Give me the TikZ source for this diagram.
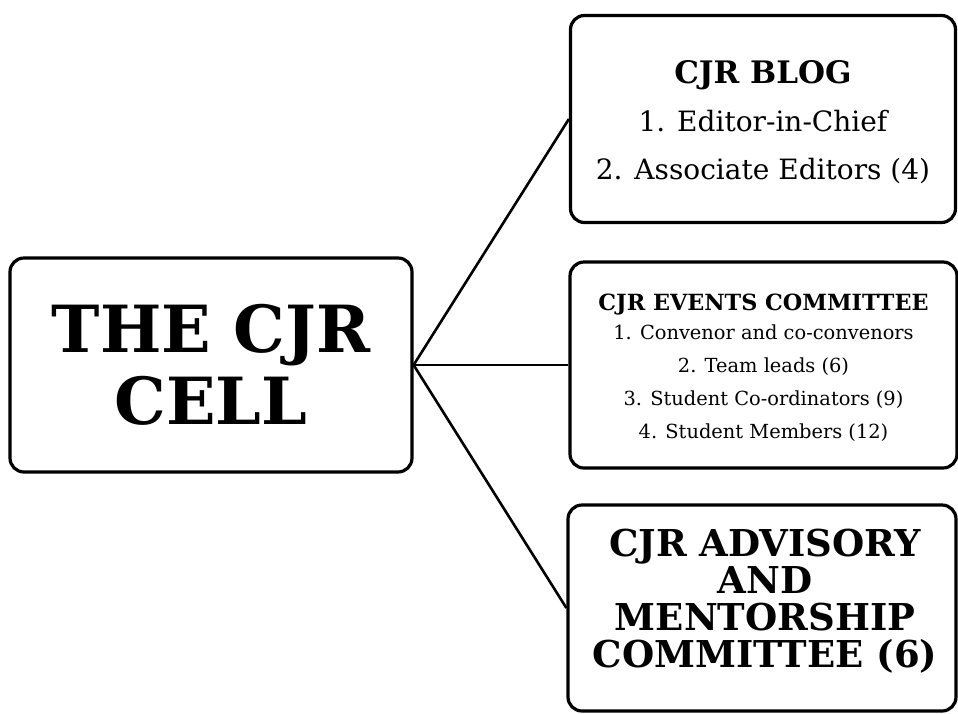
\documentclass[tikz,border=0pt]{standalone}
\usepackage{fontspec}
\setmainfont{DejaVu Serif}[BoldFont={DejaVu Serif Bold}]
\tikzset{
  box/.style={draw=black, line width=3.2pt, rounded corners=14pt, align=center, inner sep=0pt},
  boxtext/.style={align=center, inner sep=0pt},
  link/.style={draw=black, line width=2.6pt},
}
\begin{document}
\begin{tikzpicture}[x=1pt,y=-1pt]
\useasboundingbox (0,0) rectangle (958,713);
\node[box, minimum width=402pt, minimum height=214pt,
      font=\bfseries\fontsize{65}{72}\selectfont] (cell) at (211,365)
  {THE CJR\\CELL};
\node[box, minimum width=385pt, minimum height=207pt] (blog) at (763,119) {};
\node[boxtext, font=\fontsize{28}{48}\selectfont] (blogtext) at (763,122)
  {{\bfseries\fontsize{31}{48}\selectfont CJR BLOG}\\
   1. Editor-in-Chief\\
   2. Associate Editors (4)};
\node[box, minimum width=387pt, minimum height=206pt] (events) at (763.5,365) {};
\node[boxtext, font=\fontsize{19.4}{33}\selectfont] (eventstext) at (763.5,367.5)
  {{\bfseries\fontsize{22.3}{33}\selectfont CJR EVENTS COMMITTEE}\\[-4pt]
   1. Convenor and co-convenors\\
   2. Team leads (6)\\
   3. Student Co-ordinators (9)\\
   4. Student Members (12)};
\node[box, minimum width=388pt, minimum height=206pt] (advisory) at (762,608) {};
\node[boxtext, font=\bfseries\fontsize{37}{37}\selectfont] (advtext) at (765,601)
  {CJR ADVISORY\\AND\\MENTORSHIP\\COMMITTEE (6)};
\draw[link] (cell.east) -- (blog.west);
\draw[link] (cell.east) -- (events.west);
\draw[link] (cell.east) -- (advisory.west);
\end{tikzpicture}
\end{document}
